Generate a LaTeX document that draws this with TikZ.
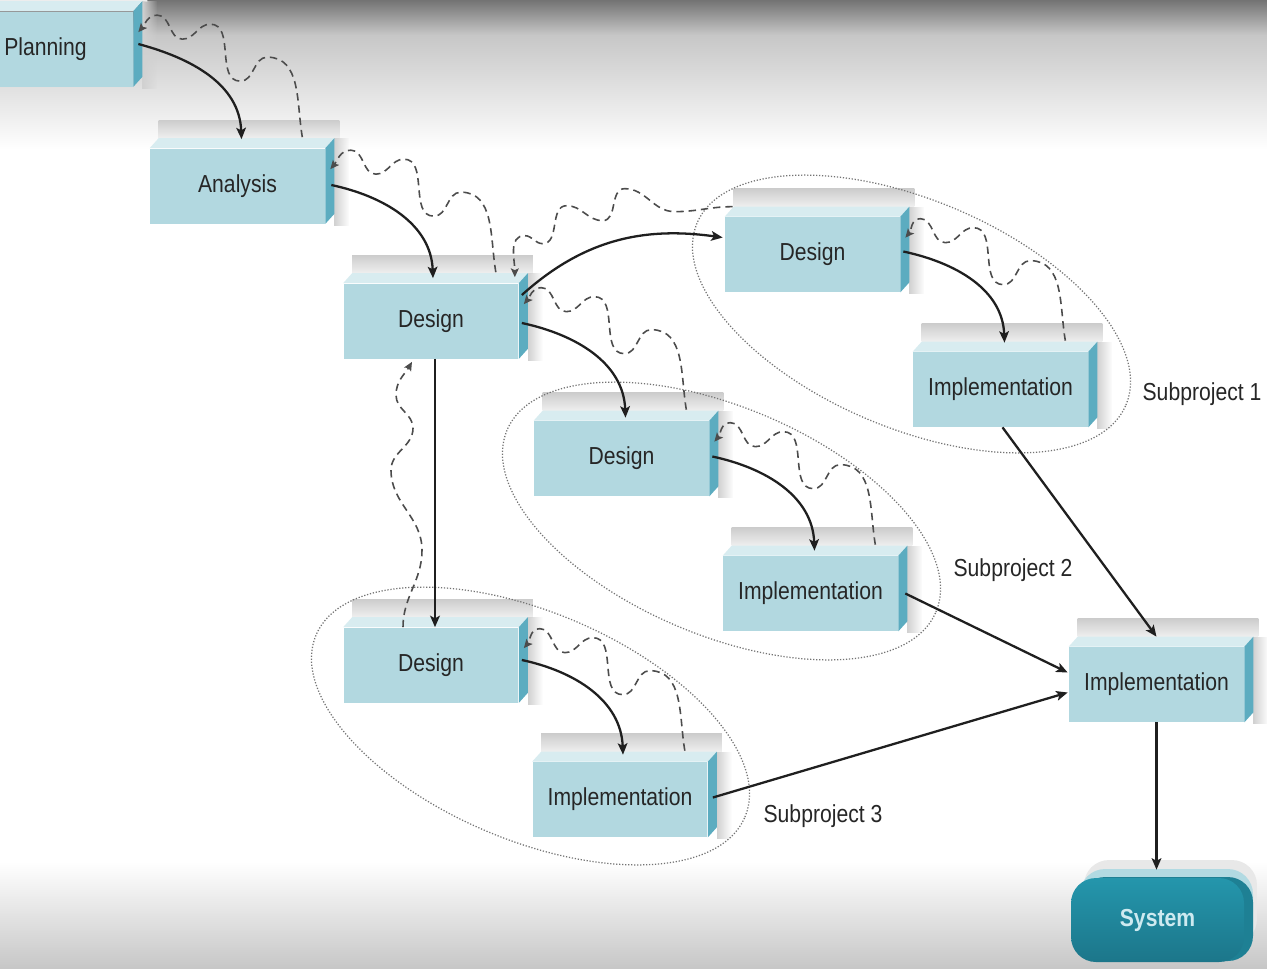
\documentclass[tikz,border=0pt]{standalone}
\usepackage{fontspec}
\setmainfont{Liberation Sans}[FakeStretch=0.86]
\usetikzlibrary{arrows.meta,calc,shapes.geometric,fadings}

\definecolor{phasefill}{RGB}{178,216,224}
\definecolor{phasetop}{RGB}{216,236,240}
\definecolor{phaseside}{RGB}{92,172,192}
\definecolor{sysfront}{RGB}{36,150,172}
\definecolor{sysdark}{RGB}{28,118,138}
\definecolor{sysside}{RGB}{30,128,148}
\definecolor{systop}{RGB}{178,218,226}
\definecolor{systext}{RGB}{206,234,240}

\tikzset{
  phase/.style={rectangle, fill=phasefill, minimum width=3.5cm, minimum height=1.5cm,
    inner sep=0pt, text=black!85, font=\fontsize{14}{16}\selectfont},
  sysnode/.style={rectangle, rounded corners=0.5cm, minimum width=3.46cm, minimum height=1.68cm,
    inner sep=0pt, top color=sysfront, bottom color=sysdark, text=systext,
    font=\fontsize{14}{16}\selectfont\bfseries,
    preaction={fill=black!9, transform canvas={xshift=0.26cm,yshift=0.36cm}},
    preaction={fill=systop, transform canvas={xshift=0.18cm,yshift=0.18cm}},
    preaction={fill=sysside, transform canvas={xshift=0.18cm,yshift=0.02cm}}},
  subproj/.style={ellipse, draw=black!55, densely dotted, line width=0.7pt,
    minimum width=9.32cm, minimum height=4.56cm, inner sep=0pt, rotate=-23},
  sublabel/.style={text=black!85, font=\fontsize{14}{16}\selectfont},
  flow/.style={-{Stealth[length=6.5pt,width=5.5pt,inset=1.5pt]}, line width=1.3pt, black!88},
  back/.style={-{Stealth[length=5pt,width=4.5pt,inset=1pt]}, dash pattern=on 4.2pt off 2.8pt,
    line width=0.9pt, black!70}
}

% front face of a phase gets a top face, a side face and a soft shadow
\newcommand\slab[1]{%
  \shade[top color=black!20, bottom color=black!6] ($(#1.north west)+(9,10)$) rectangle ($(#1.north east)+(14,28)$);
  \fill[black!18, path fading=east] ($(#1.north east)+(9,10)$) rectangle ($(#1.south east)+(24,-2)$);
  \fill[phasetop] (#1.north west) -- ++(9,10) -- ($(#1.north east)+(9,10)$) -- (#1.north east) -- cycle;
  \fill[phaseside] (#1.north east) -- ++(9,10) -- ($(#1.south east)+(9,10)$) -- (#1.south east) -- cycle;}

% dashed way back from one phase to the one before it
\newcommand\wiggle[2]{%
  \draw[back] (#1) to[out=100,in=0] ++(-35,80) to[out=180,in=0] ++(-27,-24)
    to[out=180,in=0] ++(-30,57) to[out=180,in=0] ++(-28,-15)
    to[out=180,in=0] ++(-25,24) to[out=180,in=50] (#2);}

\begin{document}
\begin{tikzpicture}[x=0.02cm,y=0.02cm]
\clip (0,0) rectangle (1267,-968);
\fill[white] (0,0) rectangle (1267,-968);
\shade[top color=black!55, bottom color=black!22] (0,0) rectangle (1267,-35);
\shade[top color=black!22, bottom color=white] (0,-35) rectangle (1267,-150);
\shade[top color=white, bottom color=black!22] (0,-862) rectangle (1267,-968);

\node[phase] (plan) at (45.5,-49) {Planning};
\node[phase] (ana) at (237.5,-186) {Analysis};
\node[phase] (d0) at (431,-321) {Design};
\node[phase] (d1) at (812.5,-254.5) {Design};
\node[phase] (i1) at (1000.5,-389.5) {Implementation};
\node[phase] (d2) at (621.5,-458.5) {Design};
\node[phase] (i2) at (810.5,-593.5) {Implementation};
\node[phase] (d3) at (431,-665) {Design};
\node[phase] (i3) at (620,-799.5) {Implementation};
\node[phase] (ifin) at (1156.5,-684.5) {Implementation};
\foreach \n in {plan,ana,d0,d1,i1,d2,i2,d3,i3,ifin} {\slab{\n}}
\node[sysnode] (sys) at (1157.5,-920) {System};

\node[subproj] (sp1) at (911.5,-314) {};
\node[subproj] (sp2) at (721.5,-521) {};
\node[subproj] (sp3) at (530.5,-726) {};
\node[sublabel] (lab1) at (1202,-394) {Subproject 1};
\node[sublabel] (lab2) at (1013,-570) {Subproject 2};
\node[sublabel] (lab3) at (823,-816) {Subproject 3};

\draw[flow] ($(plan.east)+(5,5)$) to[out=-15,in=92] ($(ana.north)+(4,9)$);
\draw[flow] ($(ana.east)+(6,1)$) to[out=-12,in=92] ($(d0.north)+(2,5)$);
\draw[flow] ($(d0.east)+(3,26)$) to[out=42,in=172] ($(d1.west)+(-2,17)$);
\draw[flow] ($(d0.east)+(3,-2)$) to[out=-12,in=92] ($(d2.north)+(4,3)$);
\draw[flow] ($(d0.south)+(4,0)$) -- ($(d3.north)+(4,0)$);
\draw[flow] ($(d1.east)+(3,3)$) to[out=-12,in=92] ($(i1.north)+(4,9)$);
\draw[flow] ($(d2.east)+(3,2)$) to[out=-12,in=92] ($(i2.north)+(4,5)$);
\draw[flow] ($(d3.east)+(3,5)$) to[out=-12,in=92] ($(i3.north)+(3,7)$);
\draw[flow] ($(i1.south)+(2,0)$) -- ($(ifin.north)+(0,10)$);
\draw[flow] ($(i2.east)+(7,0)$) -- ($(ifin.west)+(-1,12)$);
\draw[flow] ($(i3.east)+(5,2)$) -- ($(ifin.west)+(-1,-8)$);
\draw[flow] (ifin.south) -- ($(sys.north)+(-1,8)$);

\wiggle{$(ana.north east)+(-23,11)$}{$(plan.north east)+(5,-21)$}
\wiggle{$(d0.north east)+(-23,11)$}{$(ana.north east)+(5,-21)$}
\wiggle{$(d2.north east)+(-23,11)$}{$(d0.north east)+(5,-21)$}
\wiggle{$(i1.north east)+(-23,11)$}{$(d1.north east)+(5,-21)$}
\wiggle{$(i2.north east)+(-23,11)$}{$(d2.north east)+(5,-21)$}
\wiggle{$(i3.north east)+(-23,11)$}{$(d3.north east)+(5,-21)$}
\draw[back] ($(d1.north west)+(8,10)$) to[out=180,in=0] ++(-58,-5) to[out=180,in=0] ++(-50,23)
  to[out=180,in=0] ++(-22,-32) to[out=180,in=0] ++(-36,15) to[out=180,in=0] ++(-24,-38)
  to[out=180,in=0] ++(-18,8) to[out=180,in=90] ($(d0.north east)+(-4,6)$);
\draw[back] ($(d3.north)+(-28,0)$) to[out=90,in=-90] ++(19,77) to[out=90,in=-90] ++(-31,80)
  to[out=90,in=-90] ++(22,42) to[out=90,in=-90] ++(-17,33) to[out=90,in=-120] ($(d0.south)+(-19,-3)$);
\end{tikzpicture}
\end{document}
